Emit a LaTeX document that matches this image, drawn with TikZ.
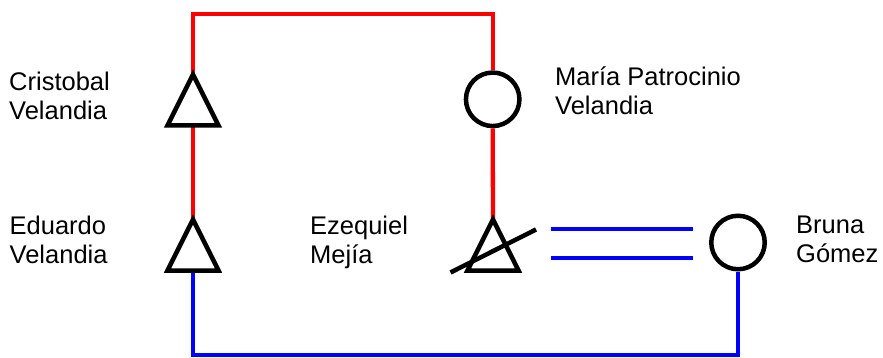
\documentclass[tikz,border=0pt]{standalone}
\usepackage{fontspec}
\setmainfont{Liberation Sans}
\begin{document}
\begin{tikzpicture}[x=1pt,y=-1pt,
  tri/.style={inner sep=0pt,outer sep=0pt,minimum width=51pt,minimum height=51pt},
  circ/.style={circle,draw=black,line width=4.5pt,inner sep=0pt,minimum size=53.5pt},
  shapeline/.style={draw=black,line width=4.5pt,line join=miter},
  redline/.style={draw=red,line width=4.3pt},
  blueline/.style={draw=blue,line width=4.3pt},
  lbl/.style={anchor=base west,inner sep=0pt,align=left,font=\fontsize{25.5}{29}\selectfont}]
\useasboundingbox (0,0) rectangle (883,358);
% nodes
\node[tri] (t1) at (193,100) {};
\node[tri] (t2) at (193,245) {};
\node[tri] (t3) at (493,245) {};
\node[circ] (c1) at (492.7,99.3) {};
\node[circ] (c2) at (738,242.5) {};
\coordinate (rtop) at (193,14.3);
\coordinate (bbot) at (193,355);
\coordinate (dl) at (550.7,243.8);
\coordinate (dr) at (693.3,243.8);
\coordinate (s1) at (450.5,272.5);
\coordinate (s2) at (536,229.5);
% connectors
\draw[redline] (t1.north) -- (rtop) -| (c1.north);
\draw[redline] (t1.south) -- (t2.north);
\draw[redline] (c1.south) -- (t3.north);
\draw[blueline] (t2.south) -- (bbot) -| (c2.south);
\draw[blueline,double=white,double distance=24.7pt] (dl) -- (dr);
% triangles
\foreach \t in {t1,t2,t3}{
  \draw[shapeline] (\t.north) -- (\t.south east) -- (\t.south west) -- cycle;
}
\draw[shapeline] (s1) -- (s2);
% labels
\node[lbl] (lc) at (9,119.5) {Cristobal\\Velandia};
\node[lbl] (le) at (9.5,263.3) {Eduardo\\Velandia};
\node[lbl] (lz) at (310,263) {Ezequiel\\Mejía};
\node[lbl] (lm) at (555,115) {María Patrocinio\\Velandia};
\node[lbl] (lb) at (796,262.7) {Bruna\\Gómez};
\end{tikzpicture}
\end{document}
